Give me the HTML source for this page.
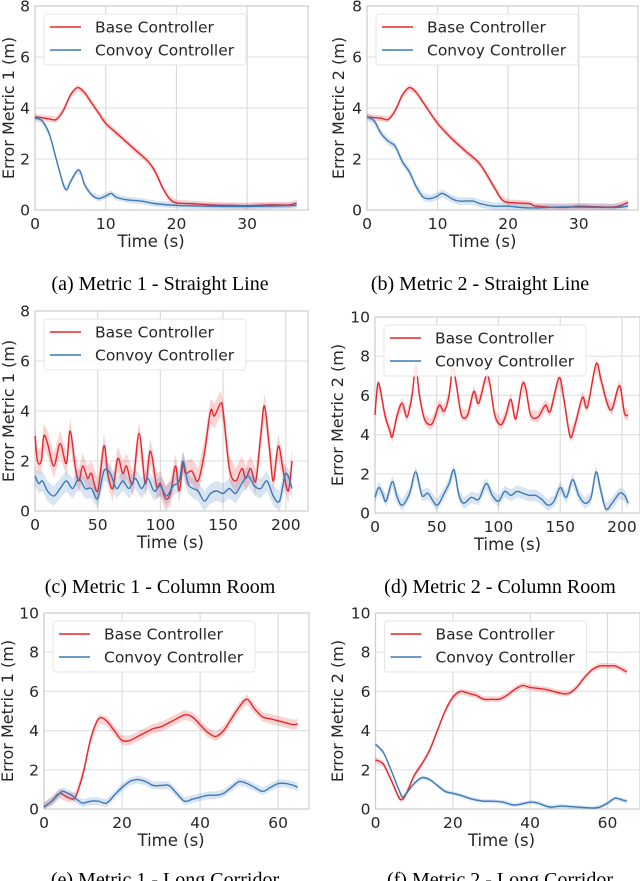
<!DOCTYPE html>
<html><head><meta charset="utf-8">
<style>
html,body{margin:0;padding:0;background:#fff;}
svg{display:block;}
.tk{font-family:"DejaVu Sans","Liberation Sans",sans-serif;font-size:15.5px;fill:#262626;}
.cap{font-family:"Liberation Serif",serif;font-size:20px;fill:#000;}
</style></head>
<body>
<svg id="fig" width="640" height="881" viewBox="0 0 640 881" xmlns="http://www.w3.org/2000/svg"></svg>
<script>
// ---- data (t, value) ----
const aBaseT=[0,1,2,3,4,5,6,7,8,9,10,12,14,16,17,18,19,20,22,25,28,30,33,36,37];
const aBaseV=[3.65,3.62,3.57,3.55,3.9,4.5,4.8,4.6,4.2,3.8,3.4,2.9,2.4,1.9,1.5,0.9,0.45,0.28,0.25,0.2,0.18,0.17,0.2,0.2,0.28];
const aConvT=[0,1,2,3,4,4.5,5,6,6.5,7,8,9,10,10.8,11.5,13,15,17,20,25,30,37];
const aConvV=[3.6,3.5,3.0,2.0,1.0,0.8,1.1,1.55,1.45,1.0,0.6,0.45,0.55,0.65,0.5,0.4,0.35,0.25,0.18,0.15,0.14,0.18];
const bBaseT=[0,2,3,4,5,6,7,8,10,12,14,16,18,19,20,23,24,28,30,35,37];
const bBaseV=[3.65,3.6,3.55,3.9,4.5,4.8,4.6,4.2,3.4,2.8,2.3,1.8,0.9,0.45,0.3,0.25,0.15,0.1,0.15,0.12,0.3];
const bConvT=[0,1,2,3,4,5,6,7,8,9,10,10.7,12,13,15,16,18,20,23,28,35,37];
const bConvV=[3.65,3.5,3.0,2.7,2.5,1.9,1.5,0.9,0.5,0.45,0.55,0.65,0.45,0.35,0.35,0.25,0.15,0.15,0.08,0.12,0.1,0.15];
const cBaseT=[0,2,5,7,10,15,20,25,28,32,35,38,42,45,50,55,58,62,66,70,73,78,83,88,92,97,100,104,108,112,115,118,120,125,130,135,140,143,148,150,155,160,165,168,172,176,180,183,187,190,194,198,202,205];
const cBaseV=[3.0,2.0,2.0,3.0,2.7,1.8,2.7,1.9,3.2,1.8,1.2,1.8,1.3,1.5,0.8,2.6,1.5,0.9,2.1,1.5,1.8,1.1,3.1,1.1,2.4,1.0,1.1,0.5,0.7,1.8,0.8,1.9,1.5,1.6,1.2,2.3,4.0,3.8,4.3,4.0,1.7,1.2,1.7,1.3,1.7,1.2,3.0,4.2,2.5,1.2,2.6,1.6,0.8,2.0];
const cConvT=[0,3,6,10,15,20,25,30,35,40,45,50,55,60,65,70,75,80,85,90,95,100,105,110,115,118,122,126,130,135,140,145,150,155,160,165,170,175,180,185,190,195,200,205];
const cConvV=[1.4,1.1,1.2,0.8,0.6,0.9,1.2,0.9,1.3,0.9,0.9,0.5,1.6,1.5,0.9,1.2,0.9,1.3,0.9,1.3,0.8,1.0,0.6,1.0,1.2,2.0,1.1,0.9,0.8,0.4,0.7,0.8,0.7,0.9,0.7,1.1,1.4,1.0,0.9,1.2,0.6,0.4,1.5,0.9];
const dBaseT=[0,2,4,8,12,14,18,22,26,30,33,36,40,45,48,52,56,60,63,66,70,75,80,84,90,93,97,102,106,110,114,119,122,126,132,138,142,149,153,158,162,168,172,179,183,188,192,198,202,205];
const dBaseV=[5.0,6.5,6.4,5.0,4.2,3.9,5.0,5.6,4.9,6.0,7.5,6.0,4.8,4.5,4.8,5.5,5.2,6.0,7.5,6.5,5.0,5.0,6.2,5.6,7.0,6.6,5.0,4.5,5.0,5.8,4.8,6.5,6.4,5.0,4.9,5.5,5.2,6.9,5.8,3.9,4.5,5.9,5.4,7.6,6.8,5.6,5.3,6.5,5.1,5.0];
const dConvT=[0,3,6,9,14,18,22,28,33,38,43,50,56,60,64,68,72,78,84,90,95,100,105,110,115,120,125,130,135,140,145,150,155,160,165,170,175,179,183,187,192,198,202,205];
const dConvV=[0.8,1.3,1.0,0.6,1.6,0.8,0.4,1.0,2.1,0.9,1.0,0.4,1.0,1.5,2.2,0.9,0.5,0.8,0.7,1.5,0.9,0.6,1.1,0.9,1.1,1.0,0.9,0.9,0.7,0.4,0.6,1.3,0.8,1.7,0.9,0.5,0.8,2.1,1.1,0.2,0.5,1.0,0.9,0.5];
const eBaseT=[0,2,4,6,8,10,12,14,16,18,20,22,24,26,28,30,33,36,38,40,42,44,46,48,50,52,54,56,58,60,62,64,65];
const eBaseV=[0.1,0.4,0.8,0.6,0.6,1.8,3.6,4.6,4.5,4.0,3.5,3.5,3.7,3.9,4.1,4.2,4.5,4.8,4.7,4.3,3.9,3.7,4.0,4.6,5.2,5.6,5.1,4.7,4.6,4.5,4.4,4.3,4.35];
const eConvT=[0,2,4,5,7,9,10,12,14,16,18,20,22,24,26,28,30,32,34,36,38,40,42,44,46,48,50,52,54,56,58,60,62,64,65];
const eConvV=[0.1,0.4,0.8,0.9,0.7,0.4,0.3,0.4,0.4,0.3,0.7,1.1,1.4,1.5,1.4,1.2,1.2,1.2,0.8,0.4,0.5,0.6,0.7,0.7,0.8,1.1,1.4,1.3,1.1,0.9,1.1,1.3,1.3,1.2,1.1];
const fBaseT=[0,2,4,6,7,8,10,12,14,16,18,20,22,24,26,28,30,32,34,36,38,40,44,48,50,52,54,56,58,60,62,64,65];
const fBaseV=[2.5,2.3,1.5,0.6,0.5,0.8,1.7,2.3,3.0,4.0,5.0,5.7,6.0,5.9,5.8,5.6,5.6,5.6,5.8,6.1,6.3,6.2,6.1,5.9,5.9,6.2,6.7,7.1,7.3,7.3,7.3,7.1,7.0];
const fConvT=[0,2,4,6,7,8,10,12,14,16,18,20,22,25,28,30,33,36,40,42,45,48,52,56,58,60,62,64,65];
const fConvV=[3.3,2.9,2.0,1.0,0.6,0.8,1.3,1.6,1.5,1.2,0.9,0.8,0.7,0.5,0.4,0.4,0.35,0.2,0.35,0.3,0.1,0.15,0.1,0.05,0.1,0.3,0.55,0.45,0.4];
const bandBase=[0.12,0.12,0.5,0.3,0.25,0.15];
const bandConv=[0.12,0.15,0.4,0.3,0.2,0.1];
const legendLabels=["Base Controller","Convoy Controller"];
const captions=["(a) Metric 1 - Straight Line","(b) Metric 2 - Straight Line","(c) Metric 1 - Column Room","(d) Metric 2 - Column Room","(e) Metric 1 - Long Corridor","(f) Metric 2 - Long Corridor"];
const yLabels=["Error Metric 1 (m)","Error Metric 2 (m)","Error Metric 1 (m)","Error Metric 2 (m)","Error Metric 1 (m)","Error Metric 2 (m)"];
const xTicks=[[0,10,20,30],[0,10,20,30],[0,50,100,150,200],[0,50,100,150,200],[0,20,40,60],[0,20,40,60]];
const yTicks=[[0,2,4,6,8],[0,2,4,6,8],[0,2,4,6,8],[0,2,4,6,8,10],[0,2,4,6,8,10],[0,2,4,6,8,10]];
const series=[[aBaseT,aBaseV,aConvT,aConvV],[bBaseT,bBaseV,bConvT,bConvV],[cBaseT,cBaseV,cConvT,cConvV],[dBaseT,dBaseV,dConvT,dConvV],[eBaseT,eBaseV,eConvT,eConvV],[fBaseT,fBaseV,fConvT,fConvV]];
const xMax=[38.6,38.4,217.7,214.6,67.9,68.4];
const yMax=[8,8,8,10,10,10];

// ---- layout ----
const layout=[
 {l:35,r:308,t:6,b:210,yl:8,cx:160,cy:290},
 {l:367,r:638,t:6,b:210,yl:338,cx:480,cy:290},
 {l:35,r:308,t:311,b:511,yl:8,cx:160,cy:593},
 {l:375,r:640,t:317,b:513,yl:337,cx:500,cy:593},
 {l:44,r:309,t:613,b:809,yl:7,cx:165,cy:886},
 {l:375.5,r:640,t:613,b:809,yl:337,cx:500,cy:886}
];
const NS="http://www.w3.org/2000/svg";
const svg=document.getElementById('fig');
function mk(tag,attrs,parent){const e=document.createElementNS(NS,tag);for(const k in attrs)e.setAttribute(k,attrs[k]);(parent||svg).appendChild(e);return e;}
function smooth(P){ // catmull-rom path through points
  let d='M'+P[0][0]+','+P[0][1];
  for(let k=0;k<P.length-1;k++){
    const p0=P[Math.max(0,k-1)],p1=P[k],p2=P[k+1],p3=P[Math.min(P.length-1,k+2)];
    const c1=[p1[0]+(p2[0]-p0[0])/6,p1[1]+(p2[1]-p0[1])/6];
    const c2=[p2[0]-(p3[0]-p1[0])/6,p2[1]-(p3[1]-p1[1])/6];
    d+=' C'+c1[0]+','+c1[1]+' '+c2[0]+','+c2[1]+' '+p2[0]+','+p2[1];
  }
  return d;
}
const RED="#e8262b",BLUE="#3c7ab7";
layout.forEach((L,i)=>{
  const g=mk('g',{});
  
  
  const X=v=>L.l+(v/xMax[i])*(L.r-L.l);
  const Y=v=>L.b-(v/yMax[i])*(L.b-L.t);
  yTicks[i].forEach(v=>{mk('line',{x1:L.l,x2:L.r,y1:Y(v),y2:Y(v),stroke:'#e3e3e3','stroke-width':1.2},g);});
  xTicks[i].forEach(v=>{mk('line',{x1:X(v),x2:X(v),y1:L.t,y2:L.b,stroke:'#dcdcdc','stroke-width':1.2},g);});
  mk('rect',{x:L.l,y:L.t,width:L.r-L.l,height:L.b-L.t,fill:'none',stroke:'#cfcfcf','stroke-width':1.2},g);
  yTicks[i].forEach(v=>{const t=mk('text',{x:L.l-5,y:Y(v)+5.5,'text-anchor':'end',class:'tk'},g);t.textContent=v;
    
    });
  xTicks[i].forEach(v=>{const t=mk('text',{x:X(v),y:L.b+19,'text-anchor':'middle',class:'tk'},g);t.textContent=v;
    
    });
  const xt=mk('text',{x:(L.l+Math.min(L.r,X(xTicks[i][xTicks[i].length-1])+20))/2,y:L.b+37,'text-anchor':'middle',class:'tk',style:'font-size:16.5px'},g);xt.textContent='Time (s)';
  
  
  const yt=mk('text',{x:0,y:0,'text-anchor':'middle',class:'tk',style:'font-size:16px',transform:`translate(${L.yl+6},${(L.t+L.b)/2}) rotate(-90)`},g);yt.textContent=yLabels[i];
  
  
  const s=series[i];
  [[s[0],s[1],RED,bandBase[i],'base'],[s[2],s[3],BLUE,bandConv[i],'convoy']].forEach(([T,V,col,bw,nm])=>{
    let up=T.map((t,k)=>X(t)+','+Y(Math.min(yMax[i],V[k]+bw))).join(' ');
    let dn=T.map((t,k)=>X(t)+','+Y(Math.max(0,V[k]-bw))).reverse().join(' ');
    const band=mk('polygon',{points:up+' '+dn,fill:col,'fill-opacity':0.2,stroke:'none'},g);
    
    
    const ln=mk('path',{d:smooth(T.map((t,k)=>[X(t),Y(V[k])])),fill:'none',stroke:col,'stroke-width':1.4,'stroke-linejoin':'round'},g);
    
    
  });
  const lx=L.l+9,ly=L.t+8;
  const lg=mk('g',{},g);
  
  
  mk('rect',{x:lx,y:ly,width:202,height:51,rx:3,fill:'#fff','fill-opacity':0.85,stroke:'#e6e6e6'},lg);
  [RED,BLUE].forEach((col,k)=>{
    const yy=ly+13+k*23;
    mk('line',{x1:lx+6,x2:lx+37,y1:yy,y2:yy,stroke:col,'stroke-width':1.4},lg);
    const t=mk('text',{x:lx+51,y:yy+5.5,class:'tk',style:'font-size:15.5px'},lg);t.textContent=legendLabels[k];
    
    
  });
  const c=mk('text',{x:L.cx,y:L.cy,'text-anchor':'middle',class:'cap'},g);c.textContent=captions[i];
  
  
});
</script>
</body></html>
